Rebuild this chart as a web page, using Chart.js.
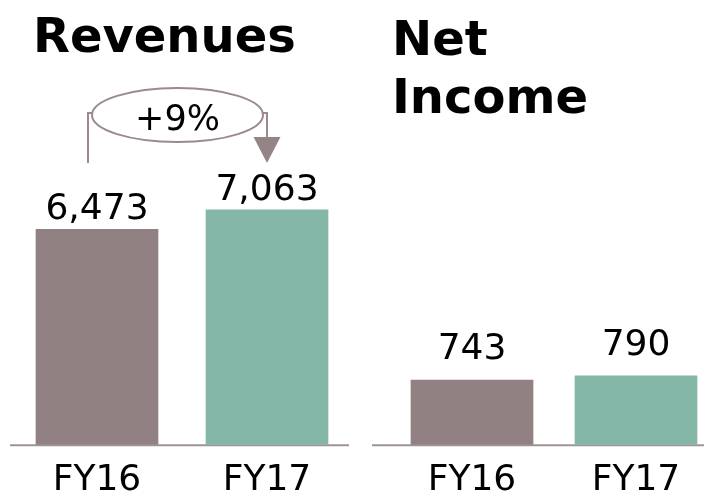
<!DOCTYPE html>
<html>
<head>
<meta charset="utf-8">
<script src="https://cdn.jsdelivr.net/npm/chart.js@4.4.1/dist/chart.umd.min.js"></script>
<style>
  html, body { margin: 0; padding: 0; background: #fff; overflow: hidden; }
  body { width: 704px; height: 498px; position: relative; }
  .box { position: absolute; top: 0; height: 516px; }
  #leftBox { left: 0; width: 352px; }
  #rightBox { left: 352px; width: 400px; }
</style>
</head>
<body>
<div class="box" id="leftBox"><canvas id="revenues"></canvas></div>
<div class="box" id="rightBox"><canvas id="netIncome"></canvas></div>
<script>
const years = ['FY16', 'FY17'];
const revenues = [6473, 7063];
const netIncome = [743, 790];
const barColors = ['#928183', '#84B7A7'];

const FONT = "'DejaVu Sans', Verdana, sans-serif";

// title text, drawn straight on the canvas
const headingPlugin = {
  id: 'heading',
  afterDraw(chart, args, opts) {
    const ctx = chart.ctx;
    ctx.save();
    ctx.fillStyle = '#000';
    ctx.font = 'bold 48px ' + FONT;
    ctx.textBaseline = 'alphabetic';
    opts.lines.forEach((line, i) => {
      ctx.fillText(line, opts.x, opts.y + i * opts.step);
    });
    ctx.restore();
  }
};

// the grey base line under the bars
const baselinePlugin = {
  id: 'baseline',
  beforeDatasetsDraw(chart, args, opts) {
    const ctx = chart.ctx;
    const y = chart.chartArea.bottom + 0.5;
    ctx.save();
    ctx.strokeStyle = '#a09396';
    ctx.lineWidth = 2;
    ctx.beginPath();
    ctx.moveTo(opts.x0, y);
    ctx.lineTo(opts.x1, y);
    ctx.stroke();
    ctx.restore();
  }
};

// numbers on top of the bars
const valuePlugin = {
  id: 'values',
  afterDatasetsDraw(chart, args, opts) {
    const ctx = chart.ctx;
    const meta = chart.getDatasetMeta(0);
    const data = chart.data.datasets[0].data;
    ctx.save();
    ctx.fillStyle = '#000';
    ctx.font = '36px ' + FONT;
    ctx.textAlign = 'center';
    ctx.textBaseline = 'alphabetic';
    meta.data.forEach((bar, i) => {
      ctx.fillText(data[i].toLocaleString('en-US'), bar.x, bar.y - opts.gap);
    });
    ctx.restore();
  }
};

// growth bubble with arrow between the two revenue bars
const growthPlugin = {
  id: 'growth',
  afterDatasetsDraw(chart, args, opts) {
    if (!opts.show) return;
    const ctx = chart.ctx;
    const meta = chart.getDatasetMeta(0);
    const data = chart.data.datasets[0].data;
    const xl = meta.data[0].x - 9;
    const xr = meta.data[1].x;
    const top = 113;
    const cx = (xl + xr) / 2;
    const rx = (xr - xl) / 2 - 4;
    const pct = Math.round((data[1] / data[0] - 1) * 100);

    ctx.save();
    ctx.strokeStyle = '#9a8a8c';
    ctx.fillStyle = '#948486';
    ctx.lineWidth = 2;
    ctx.beginPath();
    ctx.ellipse(cx, 115, rx, 27, 0, 0, Math.PI * 2);
    ctx.stroke();

    ctx.beginPath();
    ctx.moveTo(cx - rx, top);
    ctx.lineTo(xl, top);
    ctx.lineTo(xl, 163);
    ctx.moveTo(cx + rx, top);
    ctx.lineTo(xr, top);
    ctx.lineTo(xr, 138);
    ctx.stroke();

    ctx.beginPath();
    ctx.moveTo(xr - 13.5, 137);
    ctx.lineTo(xr + 13.5, 137);
    ctx.lineTo(xr, 163);
    ctx.closePath();
    ctx.fill();

    ctx.fillStyle = '#000';
    ctx.font = '35px ' + FONT;
    ctx.textAlign = 'center';
    ctx.fillText('+' + pct + '%', cx, 130);
    ctx.restore();
  }
};

function makeChart(id, values, yMax, pad, extra) {
  return new Chart(document.getElementById(id), {
    type: 'bar',
    data: {
      labels: years,
      datasets: [{
        data: values,
        backgroundColor: barColors,
        borderWidth: 0,
        barThickness: 122
      }]
    },
    options: {
      responsive: true,
      maintainAspectRatio: false,
      animation: false,
      layout: { padding: pad },
      scales: {
        x: {
          grid: { display: false, drawTicks: false },
          border: { display: false },
          ticks: { color: '#000', font: { family: FONT, size: 36 }, padding: 14 }
        },
        y: { display: false, min: 0, max: yMax }
      },
      plugins: {
        legend: { display: false },
        tooltip: { enabled: false },
        heading: extra.heading,
        baseline: extra.baseline,
        values: { gap: extra.gap },
        growth: { show: extra.growth }
      }
    },
    plugins: [baselinePlugin, valuePlugin, growthPlugin, headingPlugin]
  });
}

makeChart('revenues', revenues, 10000, { top: 112, left: 12, right: 0, bottom: 0 }, {
  heading: { lines: ['Revenues'], x: 33, y: 52, step: 58 },
  baseline: { x0: 10, x1: 349 },
  gap: 10,
  growth: true
});

makeChart('netIncome', netIncome, 4000, { top: 96, left: 38, right: 34, bottom: 0 }, {
  heading: { lines: ['Net', 'Income'], x: 40, y: 55, step: 58 },
  baseline: { x0: 20, x1: 400 },
  gap: 21,
  growth: false
});
</script>
</body>
</html>
